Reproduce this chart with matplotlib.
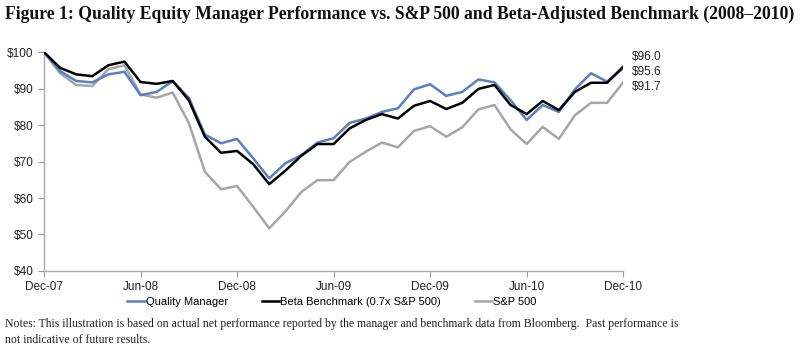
import matplotlib
matplotlib.use("Agg")
import matplotlib.pyplot as plt

months = ["Dec-07", "Jan-08", "Feb-08", "Mar-08", "Apr-08", "May-08", "Jun-08", "Jul-08",
          "Aug-08", "Sep-08", "Oct-08", "Nov-08", "Dec-08", "Jan-09", "Feb-09", "Mar-09",
          "Apr-09", "May-09", "Jun-09", "Jul-09", "Aug-09", "Sep-09", "Oct-09", "Nov-09",
          "Dec-09", "Jan-10", "Feb-10", "Mar-10", "Apr-10", "May-10", "Jun-10", "Jul-10",
          "Aug-10", "Sep-10", "Oct-10", "Nov-10", "Dec-10"]

quality = [100, 94.8, 92.1, 91.7, 93.9, 94.6, 88.2, 89.1, 92.0, 87.5, 77.4, 75.0, 76.2,
           70.9, 65.4, 69.5, 71.8, 75.2, 76.4, 80.6, 81.8, 83.6, 84.6, 89.8, 91.2, 88.0,
           89.1, 92.5, 91.7, 86.8, 81.4, 85.5, 83.6, 89.8, 94.2, 91.9, 95.6]
beta = [100, 95.7, 93.9, 93.4, 96.4, 97.4, 91.8, 91.3, 92.1, 86.8, 76.8, 72.4, 72.9,
        69.3, 63.8, 67.5, 71.6, 74.8, 74.8, 79.1, 81.4, 83.0, 81.8, 85.3, 86.6, 84.4,
        86.1, 89.9, 91.0, 85.5, 83.0, 86.6, 84.1, 89.1, 91.6, 91.6, 96.0]
sp500 = [100, 94.2, 91.0, 90.7, 95.3, 96.4, 88.4, 87.5, 88.9, 80.6, 67.2, 62.4, 63.3,
         57.6, 51.7, 56.3, 61.7, 64.9, 64.9, 69.9, 72.7, 75.2, 73.9, 78.4, 79.7, 76.8,
         79.4, 84.3, 85.5, 78.8, 74.8, 79.5, 76.2, 82.7, 86.1, 86.1, 91.7]

yticks = [40, 50, 60, 70, 80, 90, 100]
end_labels = ["$96.0", "$95.6", "$91.7"]

plt.rcParams['font.family'] = ['Liberation Sans', 'DejaVu Sans']

fig = plt.figure(figsize=(8, 3.57), dpi=100)
ax = fig.add_axes([0.055, 0.241, 0.724, 0.613])

x = list(range(len(months)))
ax.plot(x, quality, color="#5a7fc0", lw=1.8, label="Quality Manager", zorder=3)
ax.plot(x, sp500, color="#a6a6a6", lw=1.8, label="S&P 500", zorder=2)
ax.plot(x, beta, color="#000000", lw=1.8, label="Beta Benchmark (0.7x S&P 500)", zorder=4)

ax.set_xlim(0, len(months) - 1)
ax.set_ylim(40, 100)
ax.set_yticks(yticks)
ax.set_yticklabels(["$%d" % v for v in yticks])
ax.set_xticks(x[::6])
ax.set_xticklabels(months[::6])
ax.tick_params(labelsize=8.5, colors="#999999", labelcolor="#222222", length=4, width=0.8)
for side in ["top", "right"]:
    ax.spines[side].set_visible(False)
for side in ["left", "bottom"]:
    ax.spines[side].set_color("#aaaaaa")
    ax.spines[side].set_linewidth(1.0)

# end value labels
for i, txt in enumerate(end_labels):
    fig.text(632 / 800, 1 - (57 + 15 * i) / 357, txt, fontsize=8.5, color="#222222",
             ha="left", va="center")

handles, labels = ax.get_legend_handles_labels()
order = [0, 2, 1]
fig.legend([handles[k] for k in order], [labels[k] for k in order], ncol=3,
           loc="center", bbox_to_anchor=(0.415, 1 - 302 / 357), frameon=False,
           fontsize=8, handlelength=1.6, handletextpad=0.1, columnspacing=3.0)

fig.text(5 / 800, 1 - 14 / 357,
         "Figure 1: Quality Equity Manager Performance vs. S&P 500 and Beta-Adjusted Benchmark (2008\u20132010)",
         fontsize=12.7, fontweight="bold", family="Liberation Serif", ha="left", va="center",
         color="#111111")
fig.text(5 / 800, 1 - 324 / 357,
         "Notes: This illustration is based on actual net performance reported by the manager and benchmark data from Bloomberg.  Past performance is",
         fontsize=8.5, family="Liberation Serif", ha="left", va="center", color="#222222")
fig.text(5 / 800, 1 - 340 / 357, "not indicative of future results.",
         fontsize=8.5, family="Liberation Serif", ha="left", va="center", color="#222222")

fig.savefig("out.png", dpi=100)
